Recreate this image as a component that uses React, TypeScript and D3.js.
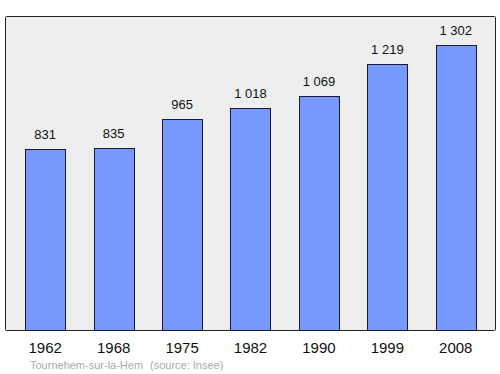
import React from "react";
import * as d3 from "d3";

const years = ["1962", "1968", "1975", "1982", "1990", "1999", "2008"];
const population = [831, 835, 965, 1018, 1069, 1219, 1302];
const valueLabels = ["831", "835", "965", "1 018", "1 069", "1 219", "1 302"];
const placeName = "Tournehem-sur-la-Hem";
const sourceText = "(source: Insee)";

export default function App() {
  const W = 500, H = 374;
  const plot = { left: 5.5, top: 16.5, right: 495.5, bottom: 330.5 };
  const x = d3.scaleBand<string>().domain(years).range([11, 490]).paddingInner(0.415).paddingOuter(0.2075);
  const y = d3.scaleLinear().domain([0, 1434]).range([330.5, 16.5]);
  const font = "Liberation Sans, Arial, sans-serif";
  return (
    <svg width={W} height={H} style={{ position: "absolute", left: 0, top: 0 }}>
      <rect x={plot.left} y={plot.top} width={plot.right - plot.left} height={plot.bottom - plot.top}
        fill="#eeeeee" stroke="#222" strokeWidth={1} rx={1} />
      {years.map((yr, i) => {
        const bx = x(yr)!;
        const top = y(population[i]);
        return (
          <g key={yr}>
            <rect x={Math.round(bx) + 0.5} y={Math.round(top) + 0.5} width={Math.round(x.bandwidth())}
              height={330 - Math.round(top)} fill="#7799ff" stroke="#1a1a2e" strokeWidth={1} />
            <text x={bx + x.bandwidth() / 2} y={top - 10} textAnchor="middle" fontFamily={font} fontSize={13} fill="#111">
              {valueLabels[i]}
            </text>
            <text x={bx + x.bandwidth() / 2} y={353} textAnchor="middle" fontFamily={font} fontSize={15} fill="#111">
              {yr}
            </text>
          </g>
        );
      })}
      <text x={30} y={369} fontFamily={font} fontSize={11} fill="#aaaaaa">{placeName}</text>
      <text x={150} y={369} fontFamily={font} fontSize={11} fill="#aaaaaa">{sourceText}</text>
    </svg>
  );
}
